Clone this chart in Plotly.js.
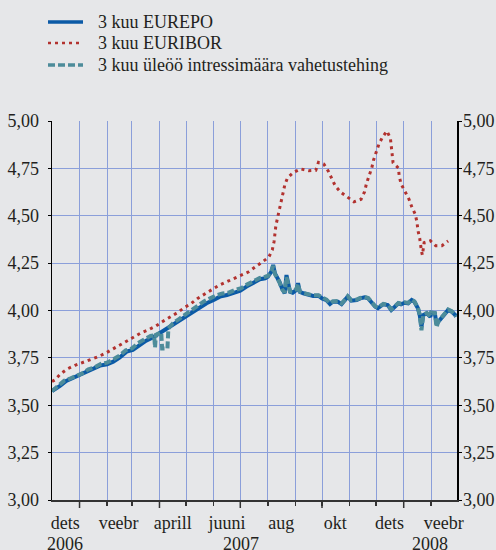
<!DOCTYPE html>
<html>
<head>
<meta charset="utf-8">
<script src="https://cdn.plot.ly/plotly-3.0.1.min.js"></script>
<style>
html,body{margin:0;padding:0;background:#e6e7e9;}
#chart{width:496px;height:550px;}
</style>
</head>
<body>
<div id="chart"></div>
<script>
// ---- data ----
var seriesNames = ["3 kuu EUREPO", "3 kuu EURIBOR", "3 kuu üleöö intressimäära vahetustehing"];

var eurepoDates = ["2006-12-01","2006-12-03","2006-12-10","2006-12-17","2006-12-25","2007-01-01","2007-01-09","2007-01-16","2007-01-24","2007-02-01","2007-02-08","2007-02-15","2007-02-23","2007-03-02","2007-03-09","2007-03-17","2007-03-25","2007-04-01","2007-04-09","2007-04-16","2007-04-24","2007-05-01","2007-05-09","2007-05-16","2007-05-24","2007-06-01","2007-06-08","2007-06-16","2007-06-23","2007-07-01","2007-07-08","2007-07-16","2007-07-23","2007-07-29","2007-08-01","2007-08-05","2007-08-07","2007-08-09","2007-08-11","2007-08-14","2007-08-17","2007-08-20","2007-08-22","2007-08-24","2007-08-26","2007-08-29","2007-09-02","2007-09-04","2007-09-06","2007-09-10","2007-09-15","2007-09-21","2007-09-27","2007-10-01","2007-10-06","2007-10-10","2007-10-13","2007-10-19","2007-10-23","2007-10-29","2007-10-30","2007-11-03","2007-11-09","2007-11-13","2007-11-18","2007-11-22","2007-11-26","2007-11-30","2007-12-03","2007-12-09","2007-12-14","2007-12-18","2007-12-22","2007-12-26","2007-12-29","2008-01-02","2008-01-06","2008-01-10","2008-01-13","2008-01-17","2008-01-19","2008-01-21","2008-01-23","2008-01-27","2008-01-31","2008-02-01","2008-02-05","2008-02-07","2008-02-09","2008-02-13","2008-02-17","2008-02-20","2008-02-24","2008-02-28","2008-02-29"];
var eurepoValues = [3.575,3.580,3.602,3.628,3.645,3.660,3.677,3.693,3.709,3.716,3.730,3.751,3.783,3.792,3.818,3.841,3.859,3.880,3.902,3.923,3.945,3.967,3.992,4.017,4.038,4.055,4.073,4.082,4.094,4.104,4.126,4.144,4.165,4.170,4.178,4.205,4.240,4.196,4.182,4.152,4.117,4.091,4.187,4.144,4.099,4.094,4.108,4.144,4.099,4.091,4.085,4.077,4.078,4.064,4.055,4.034,4.046,4.046,4.034,4.064,4.073,4.052,4.055,4.064,4.070,4.064,4.038,4.020,4.012,4.033,4.029,4.003,4.020,4.038,4.033,4.041,4.038,4.055,4.046,4.012,3.976,3.915,3.976,3.985,3.967,3.988,3.985,3.930,3.941,3.967,3.985,4.003,3.994,3.976,3.967];

var euriborDates = ["2006-12-01","2006-12-04","2006-12-11","2006-12-18","2006-12-27","2007-01-04","2007-01-13","2007-01-22","2007-01-30","2007-02-07","2007-02-15","2007-02-23","2007-03-03","2007-03-11","2007-03-20","2007-03-28","2007-04-05","2007-04-13","2007-04-21","2007-04-29","2007-05-07","2007-05-14","2007-05-22","2007-05-30","2007-06-07","2007-06-15","2007-06-23","2007-07-02","2007-07-10","2007-07-18","2007-07-25","2007-08-02","2007-08-06","2007-08-08","2007-08-09","2007-08-10","2007-08-12","2007-08-14","2007-08-16","2007-08-18","2007-08-20","2007-08-23","2007-08-30","2007-09-07","2007-09-16","2007-09-24","2007-09-27","2007-10-03","2007-10-08","2007-10-12","2007-10-16","2007-10-22","2007-10-30","2007-11-06","2007-11-14","2007-11-18","2007-11-20","2007-11-23","2007-11-26","2007-11-28","2007-12-01","2007-12-04","2007-12-08","2007-12-13","2007-12-17","2007-12-18","2007-12-19","2007-12-20","2007-12-26","2007-12-27","2007-12-29","2008-01-03","2008-01-07","2008-01-10","2008-01-14","2008-01-16","2008-01-17","2008-01-19","2008-01-20","2008-01-21","2008-01-22","2008-01-24","2008-01-31","2008-02-06","2008-02-13","2008-02-20"];
var euriborValues = [3.625,3.633,3.667,3.691,3.711,3.725,3.739,3.756,3.774,3.795,3.816,3.839,3.862,3.881,3.899,3.918,3.943,3.964,3.988,4.015,4.038,4.064,4.087,4.108,4.133,4.150,4.168,4.184,4.203,4.230,4.252,4.281,4.319,4.363,4.404,4.446,4.490,4.534,4.576,4.618,4.660,4.699,4.729,4.747,4.738,4.740,4.782,4.773,4.736,4.696,4.657,4.624,4.599,4.574,4.587,4.627,4.669,4.710,4.752,4.793,4.835,4.877,4.914,4.947,4.910,4.868,4.824,4.780,4.752,4.708,4.668,4.627,4.587,4.548,4.508,4.465,4.423,4.381,4.337,4.314,4.293,4.358,4.368,4.342,4.342,4.367];

var swapDates = ["2006-12-01","2006-12-05","2006-12-10","2006-12-15","2006-12-21","2006-12-28","2007-01-04","2007-01-11","2007-01-18","2007-01-25","2007-02-01","2007-02-08","2007-02-15","2007-02-22","2007-03-01","2007-03-08","2007-03-15","2007-03-22","2007-03-26","2007-03-27","2007-03-28","2007-04-03","2007-04-04","2007-04-10","2007-04-11","2007-04-16","2007-04-23","2007-04-30","2007-05-07","2007-05-14","2007-05-21","2007-05-28","2007-06-04","2007-06-11","2007-06-18","2007-06-25","2007-07-02","2007-07-09","2007-07-16","2007-07-23","2007-07-29","2007-08-01","2007-08-05","2007-08-07","2007-08-09","2007-08-11","2007-08-14","2007-08-17","2007-08-20","2007-08-22","2007-08-24","2007-08-26","2007-08-29","2007-09-02","2007-09-04","2007-09-06","2007-09-10","2007-09-15","2007-09-21","2007-09-27","2007-10-01","2007-10-06","2007-10-10","2007-10-13","2007-10-19","2007-10-23","2007-10-29","2007-10-30","2007-11-03","2007-11-09","2007-11-13","2007-11-18","2007-11-22","2007-11-26","2007-11-30","2007-12-03","2007-12-09","2007-12-14","2007-12-18","2007-12-22","2007-12-26","2007-12-29","2008-01-02","2008-01-06","2008-01-10","2008-01-13","2008-01-17","2008-01-19","2008-01-21","2008-01-23","2008-01-27","2008-01-31","2008-02-01","2008-02-05","2008-02-07","2008-02-09","2008-02-13","2008-02-17","2008-02-20","2008-02-24","2008-02-28","2008-02-29"];
var swapValues = [3.575,3.590,3.610,3.630,3.640,3.655,3.668,3.690,3.700,3.718,3.725,3.742,3.762,3.790,3.800,3.828,3.848,3.866,3.868,3.805,3.872,3.885,3.800,3.800,3.905,3.932,3.955,3.978,4.002,4.028,4.048,4.064,4.080,4.090,4.094,4.108,4.118,4.138,4.156,4.172,4.178,4.182,4.210,4.235,4.192,4.178,4.150,4.112,4.095,4.175,4.140,4.100,4.098,4.112,4.140,4.100,4.092,4.087,4.080,4.080,4.068,4.058,4.038,4.048,4.050,4.038,4.068,4.075,4.055,4.058,4.066,4.072,4.066,4.040,4.022,4.015,4.035,4.030,4.006,4.022,4.040,4.036,4.043,4.040,4.058,4.048,4.015,3.978,3.895,3.978,3.987,3.970,3.990,3.987,3.912,3.943,3.970,3.988,4.005,3.996,3.978,3.970];

// axis labels
var monthStarts = ["2007-01-01","2007-02-01","2007-03-01","2007-04-01","2007-05-01","2007-06-01","2007-07-01","2007-08-01","2007-09-01","2007-10-01","2007-11-01","2007-12-01","2008-01-01","2008-02-01"];
var monthTickVals = ["2006-12-16","2007-02-14","2007-04-16","2007-06-16","2007-08-16","2007-10-16","2007-12-16","2008-02-15"];
var monthTickText = ["dets","veebr","aprill","juuni","aug","okt","dets","veebr"];
var yearLabelPos = ["2006-12-16","2007-07-02","2008-01-31"];
var yearLabelText = ["2006","2007","2008"];
var quarterTicks = ["2007-01-01","2007-04-01","2007-07-01","2007-10-01","2008-01-01"];
var xRange = ["2006-12-01","2008-03-01"];
var yRange = [3, 5];

// ---- styles ----
var FONT = "'Liberation Serif', 'Times New Roman', Times, serif";
var TXT = "#231f20";
var GRID = "#8b9fda";
var BG = "#e6e7e9";
var COLORS = ["#0b5aa6", "#b2322f", "#4d8c9a"];
var WIDTHS = [4, 3, 4];
var DASHES = ["solid", "3px,4px", "7px,3px"];

var traces = [
  {x: eurepoDates, y: eurepoValues, name: seriesNames[0], type: "scatter", mode: "lines",
   line: {color: COLORS[0], width: WIDTHS[0]}},
  {x: euriborDates, y: euriborValues, name: seriesNames[1], type: "scatter", mode: "lines",
   xaxis: "x2", yaxis: "y2", line: {color: COLORS[1], width: WIDTHS[1], dash: DASHES[1]}},
  {x: swapDates, y: swapValues, name: seriesNames[2], type: "scatter", mode: "lines",
   line: {color: COLORS[2], width: WIDTHS[2], dash: DASHES[2]}}
];

// plot area geometry (for paper-coordinate placement of legend)
var L = 52, R = 39, T = 121, B = 50, W = 496, H = 550;
var PW = W - L - R, PH = H - T - B;
function px2paperX(px){ return (px - L) / PW; }
function px2paperY(py){ return 1 + (T - py) / PH; }

var shapes = quarterTicks.map(function(d){
  return {type: "line", xref: "x", yref: "paper", x0: d, x1: d, y0: 0, y1: -8/PH,
          line: {color: "#333333", width: 1.5}};
});

var annotations = yearLabelPos.map(function(d, i){
  return {x: d, xref: "x", y: 0, yref: "paper", yanchor: "top", xanchor: "center",
          yshift: -32, text: yearLabelText[i], showarrow: false,
          font: {family: FONT, size: 18, color: TXT}};
});

// manual legend
var legendRows = [22, 43, 65];
seriesNames.forEach(function(name, i){
  var yy = px2paperY(legendRows[i]);
  shapes.push({type: "line", xref: "paper", yref: "paper",
               x0: px2paperX(48), x1: px2paperX(83), y0: yy, y1: yy,
               line: {color: COLORS[i], width: WIDTHS[i] - 0.5, dash: DASHES[i]}});
  annotations.push({x: px2paperX(96), xref: "paper", y: yy, yref: "paper",
                    xanchor: "left", yanchor: "middle", text: name, showarrow: false,
                    font: {family: FONT, size: 18, color: TXT}});
});

var yCommon = {
  range: yRange, dtick: 0.25, tick0: 3, tickformat: ".2f", fixedrange: true,
  showline: true, linecolor: "#000000", linewidth: 1.5,
  ticks: "outside", ticklen: 3, tickcolor: "#000000",
  tickfont: {family: FONT, size: 18, color: TXT}, zeroline: false
};

var layout = {
  width: W, height: H,
  margin: {l: L, r: R, t: T, b: B, pad: 0},
  paper_bgcolor: BG, plot_bgcolor: BG,
  separators: ", ",
  showlegend: false,
  font: {family: FONT, size: 18, color: TXT},
  // month-boundary grid and small ticks
  xaxis: {
    type: "date", range: xRange, fixedrange: true,
    tickmode: "array", tickvals: monthStarts, showticklabels: false,
    ticks: "outside", ticklen: 4, tickcolor: "#333333", tickwidth: 1.5,
    showgrid: true, gridcolor: GRID, gridwidth: 1,
    showline: true, linecolor: "#333333", linewidth: 1.5, zeroline: false
  },
  // month labels centred in their months
  xaxis2: {
    type: "date", range: xRange, fixedrange: true, overlaying: "x", anchor: "y2", side: "bottom",
    tickmode: "array", tickvals: monthTickVals, ticktext: monthTickText,
    ticks: "", showgrid: false, showline: false, zeroline: false, ticklabelstandoff: 10,
    tickfont: {family: FONT, size: 18, color: TXT}
  },
  yaxis: Object.assign({}, yCommon, {side: "left", showgrid: true, gridcolor: GRID, gridwidth: 1,
                        ticklabelstandoff: 5}),
  yaxis2: Object.assign({}, yCommon, {side: "right", overlaying: "y", anchor: "x2", showgrid: false,
                        ticklabelstandoff: -2}),
  shapes: shapes,
  annotations: annotations
};

Plotly.newPlot("chart", traces, layout, {displayModeBar: false, staticPlot: true});
</script>
</body>
</html>
